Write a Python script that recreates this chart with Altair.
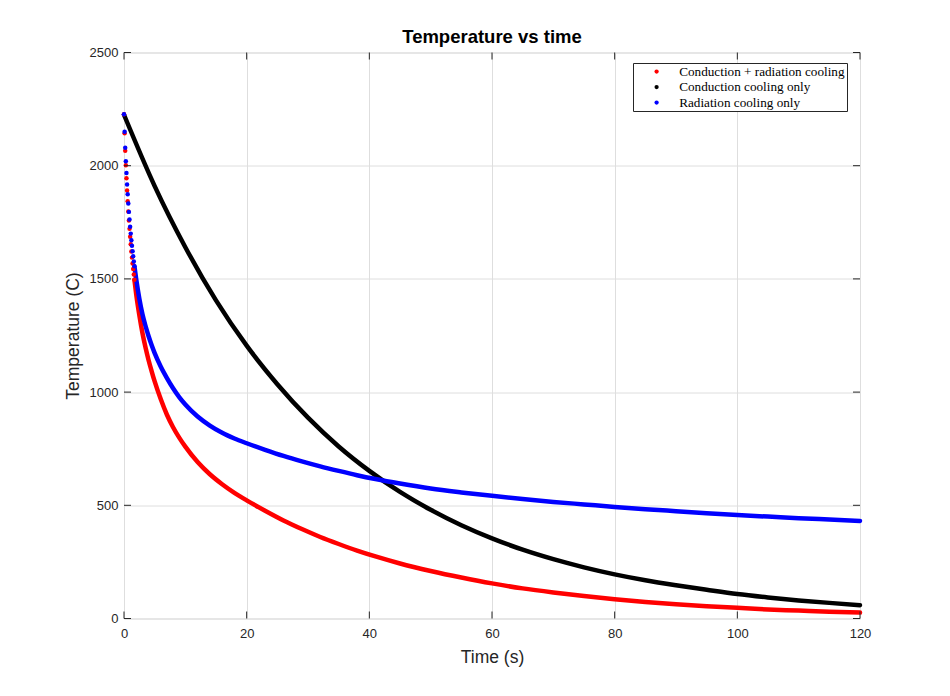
import altair as alt
import pandas as pd

series_names = ["Conduction + radiation cooling", "Conduction cooling only", "Radiation cooling only"]
series_colors = ["#ff0000", "#000000", "#0000ff"]

# early, widely spaced samples (drawn as separate dots)
dot_time = [0.0, 0.1, 0.2, 0.3, 0.4, 0.5, 0.6, 0.7, 0.8, 0.9, 1.0, 1.1, 1.2, 1.3, 1.4, 1.5, 1.6, 1.7]
red_dots = [2227, 2143, 2066, 2002, 1945, 1890, 1843, 1798, 1758, 1721, 1686, 1653, 1621, 1594, 1568, 1544, 1519, 1496]
blue_dots = [2227, 2150, 2079, 2020, 1968, 1917, 1874, 1833, 1796, 1762, 1730, 1700, 1671, 1646, 1622, 1600, 1577, 1556]

# later samples (dense dots, drawn as a thick curve)
curve_time = [1.7, 2.0, 2.5, 3.0, 3.5, 4.0, 4.5, 5.0, 6.0, 7.0, 8.0, 9.0, 10.0, 12.0, 14.0, 16.0, 18.0, 20.0,
              23.0, 26.0, 29.0, 32.0, 35.0, 38.0, 41.0, 45.0, 50.0, 55.0, 60.0, 65.0, 70.0, 75.0, 80.0,
              85.0, 90.0, 95.0, 100.0, 105.0, 110.0, 115.0, 120.0]
red_curve = [1496, 1430, 1340, 1262, 1198, 1142, 1093, 1047, 968, 900, 845, 799, 759, 691, 637, 593, 555, 522,
             476, 433, 395, 360, 329, 300, 274, 243, 210, 181, 155, 133, 115, 99, 85,
             73, 63, 54, 47, 40, 35, 30, 26]
blue_curve = [1556, 1497, 1413, 1345, 1293, 1248, 1208, 1172, 1112, 1062, 1017, 978, 945, 892, 852, 820, 795, 774,
              745, 718, 694, 672, 652, 633, 616, 596, 574, 557, 542, 528, 515, 504, 493,
              483, 474, 465, 457, 450, 443, 437, 431]

black_time = [0, 5, 10, 15, 20, 25, 30, 35, 40, 45, 50, 55, 60, 65, 70, 75, 80, 85, 90, 95, 100, 105, 110, 115, 120]
black_curve = [2225, 1910, 1640, 1405, 1205, 1035, 887, 760, 652, 559, 480, 412, 354, 304, 262, 226, 195, 169,
               147, 127, 108, 93, 80, 69, 59]

x_ticks = [0, 20, 40, 60, 80, 100, 120]
y_ticks = [0, 500, 1000, 1500, 2000, 2500]

W, H = 736, 566

red_df = pd.DataFrame({"t": curve_time, "T": red_curve})
black_df = pd.DataFrame({"t": black_time, "T": black_curve})
blue_df = pd.DataFrame({"t": curve_time, "T": blue_curve})

dot_df = pd.concat([
    pd.DataFrame({"series": series_names[0], "t": dot_time, "T": red_dots}),
    pd.DataFrame({"series": series_names[2], "t": dot_time, "T": blue_dots}),
], ignore_index=True)

x_scale = alt.Scale(domain=[0, 120], nice=False)
y_scale = alt.Scale(domain=[0, 2500], nice=False)
color_scale = alt.Scale(domain=series_names, range=series_colors)

x_axis = alt.Axis(values=x_ticks, title="Time (s)", format="d", grid=True, gridColor="#dedede", gridWidth=1,
                  ticks=False, tickSize=0, domain=False, labelFlush=False, labelOverlap=False,
                  labelFont="Liberation Sans", labelFontSize=13, labelColor="#262626", labelPadding=9,
                  titleFont="Liberation Sans", titleFontSize=17.5, titleFontWeight="normal", titleColor="#262626",
                  titleX=368, titleY=39, titleBaseline="middle")
y_axis = alt.Axis(values=y_ticks, title="Temperature (C)", format="d", grid=True, gridColor="#dedede", gridWidth=1,
                  ticks=False, tickSize=0, domain=False, labelFlush=False, labelOverlap=False,
                  labelFont="Liberation Sans", labelFontSize=13, labelColor="#262626", labelPadding=6,
                  titleFont="Liberation Sans", titleFontSize=17.5, titleFontWeight="normal", titleColor="#262626",
                  titleX=-51, titleY=283, titleBaseline="middle")

X = alt.X("t:Q", scale=x_scale, axis=x_axis)
Y = alt.Y("T:Q", scale=y_scale, axis=y_axis)


def curve(df, color):
    return alt.Chart(df).mark_line(strokeWidth=4.5, interpolate="monotone", strokeCap="round",
                                   color=color).encode(x=X, y=Y)


dots = alt.Chart(dot_df).mark_circle(size=20, opacity=1).encode(
    x=X, y=Y,
    color=alt.Color("series:N", scale=color_scale,
                    legend=alt.Legend(title=None, orient="none", legendX=509, legendY=10.5,
                                      direction="vertical", fillColor="white", strokeColor="#262626",
                                      padding=2, cornerRadius=0,
                                      labelFont="Liberation Serif", labelFontSize=13.2, labelColor="black",
                                      symbolSize=18, symbolType="circle", symbolOffset=15,
                                      labelOffset=16, rowPadding=1.5, labelLimit=400)),
)

xt_df = pd.DataFrame({"t": x_ticks})
yt_df = pd.DataFrame({"T": y_ticks})
tick_color = "#262626"
bottom_ticks = alt.Chart(xt_df).mark_rule(color=tick_color, strokeWidth=1).encode(
    x=X, y=alt.value(H), y2=alt.value(H - 7))
top_ticks = alt.Chart(xt_df).mark_rule(color=tick_color, strokeWidth=1).encode(
    x=X, y=alt.value(0), y2=alt.value(7))
left_ticks = alt.Chart(yt_df).mark_rule(color=tick_color, strokeWidth=1).encode(
    y=Y, x=alt.value(0), x2=alt.value(7))
right_ticks = alt.Chart(yt_df).mark_rule(color=tick_color, strokeWidth=1).encode(
    y=Y, x=alt.value(W), x2=alt.value(W - 7))

chart = alt.layer(
    curve(red_df, series_colors[0]), curve(black_df, series_colors[1]), curve(blue_df, series_colors[2]),
    dots, bottom_ticks, top_ticks, left_ticks, right_ticks
).properties(
    width=W, height=H,
    title=alt.TitleParams("Temperature vs time", font="Liberation Sans", fontSize=18.5, fontWeight="bold",
                          color="black", offset=0, anchor="middle"),
    autosize="none",
    padding={"left": 116, "top": 44.5, "right": 70, "bottom": 60},
).configure_view(stroke="#262626", strokeWidth=1).configure(background="white")

chart.save("out.html", embed_options={"renderer": "svg", "actions": False})
